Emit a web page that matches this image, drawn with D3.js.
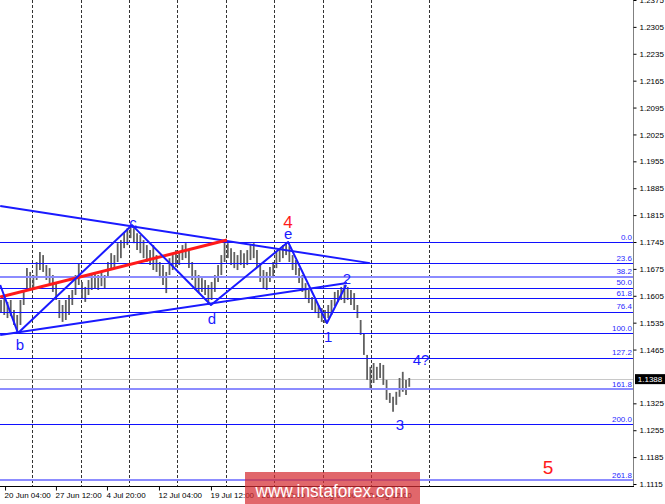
<!DOCTYPE html>
<html>
<head>
<meta charset="utf-8">
<script src="https://cdnjs.cloudflare.com/ajax/libs/d3/7.8.5/d3.min.js"></script>
<style>
  body { margin: 0; background: #fff; }
  svg { display: block; font-family: "Liberation Sans", Arial, sans-serif; }
</style>
</head>
<body>
<svg id="chart" width="665" height="504"></svg>
<script>
// H4 bars sampled every 8h: high / low
const barHigh = [
  1.1594, 1.1599, 1.1589, 1.1594, 1.1568, 1.1555, 1.1594, 1.1620, 1.1677, 1.1667,
  1.1659, 1.1693, 1.1719, 1.1711, 1.1685, 1.1677, 1.1659, 1.1641, 1.1594, 1.1581,
  1.1594, 1.1607, 1.1620, 1.1659, 1.1690, 1.1641, 1.1628, 1.1646, 1.1659, 1.1667,
  1.1659, 1.1667, 1.1659, 1.1693, 1.1716, 1.1711, 1.1742, 1.1750, 1.1771, 1.1781,
  1.1789, 1.1781, 1.1768, 1.1763, 1.1750, 1.1737, 1.1724, 1.1737, 1.1711, 1.1693,
  1.1685, 1.1667, 1.1703, 1.1711, 1.1724, 1.1719, 1.1737, 1.1742, 1.1724, 1.1693,
  1.1672, 1.1659, 1.1651, 1.1646, 1.1633, 1.1641, 1.1659, 1.1685, 1.1711, 1.1747,
  1.1742, 1.1729, 1.1719, 1.1711, 1.1724, 1.1716, 1.1724, 1.1737, 1.1742, 1.1724,
  1.1685, 1.1672, 1.1667, 1.1680, 1.1693, 1.1719, 1.1729, 1.1737, 1.1745, 1.1734,
  1.1711, 1.1698, 1.1677, 1.1659, 1.1638, 1.1620, 1.1602, 1.1594, 1.1581, 1.1573,
  1.1568, 1.1581, 1.1594, 1.1615, 1.1620, 1.1628, 1.1633, 1.1628, 1.1620, 1.1612,
  1.1581, 1.1542, 1.1508, 1.1451, 1.1420, 1.1430, 1.1420, 1.1430, 1.1425, 1.1386,
  1.1352, 1.1342, 1.1355, 1.1391, 1.1407, 1.1386, 1.1391
];
const barLow = [
  1.1560, 1.1555, 1.1547, 1.1552, 1.1529, 1.1508, 1.1529, 1.1581, 1.1620, 1.1625,
  1.1620, 1.1646, 1.1672, 1.1667, 1.1646, 1.1633, 1.1615, 1.1594, 1.1547, 1.1537,
  1.1542, 1.1555, 1.1581, 1.1607, 1.1633, 1.1599, 1.1589, 1.1607, 1.1620, 1.1625,
  1.1620, 1.1630, 1.1625, 1.1651, 1.1672, 1.1677, 1.1693, 1.1703, 1.1729, 1.1737,
  1.1755, 1.1742, 1.1724, 1.1716, 1.1703, 1.1693, 1.1685, 1.1672, 1.1667, 1.1651,
  1.1633, 1.1612, 1.1659, 1.1672, 1.1680, 1.1685, 1.1698, 1.1703, 1.1677, 1.1646,
  1.1620, 1.1612, 1.1615, 1.1607, 1.1581, 1.1594, 1.1615, 1.1641, 1.1659, 1.1693,
  1.1703, 1.1685, 1.1677, 1.1672, 1.1685, 1.1677, 1.1685, 1.1698, 1.1703, 1.1677,
  1.1641, 1.1625, 1.1620, 1.1641, 1.1651, 1.1677, 1.1693, 1.1703, 1.1711, 1.1693,
  1.1672, 1.1659, 1.1638, 1.1615, 1.1599, 1.1586, 1.1568, 1.1560, 1.1547, 1.1537,
  1.1534, 1.1547, 1.1555, 1.1578, 1.1589, 1.1594, 1.1586, 1.1594, 1.1581, 1.1568,
  1.1547, 1.1503, 1.1451, 1.1386, 1.1360, 1.1378, 1.1386, 1.1391, 1.1373, 1.1334,
  1.1326, 1.1303, 1.1321, 1.1342, 1.1355, 1.1347, 1.1368
];
const lastPrice = 1.1388;

// axes (x in H4-bar units)
const priceTicks = [1.2375, 1.2305, 1.2235, 1.2165, 1.2095, 1.2025, 1.1955, 1.1885, 1.1815,
  1.1745, 1.1675, 1.1605, 1.1535, 1.1465, 1.1325, 1.1255, 1.1185, 1.1115];
const timeLabels = ["20 Jun 04:00", "27 Jun 12:00", "4 Jul 20:00", "12 Jul 04:00",
  "19 Jul 12:00", "26 Jul 20:00", "3 Aug 04:00", "10 Aug 12:00"];
const timeTicks = [3, 34.4, 65.9, 98, 130.1, 161.6, 193.7, 225.2];
const weekLines = [19.6, 49.9, 79.5, 109.1, 139.4, 169, 199.3, 228.9, 264.7];

// fibonacci grid
const fibLevels = [0, 23.6, 38.2, 50, 61.8, 76.4, 100, 127.2, 161.8, 200, 261.8];
const fibLight = [38.2, 161.8, 261.8];
const fibTop = 1.1745, fibBottom = 1.1508;

// wave count and trend lines: [bar, price]
const wavePath = [[0, 1.1633], [11, 1.1508], [81.4, 1.1789], [130.1, 1.1581],
  [177.7, 1.1745], [201.7, 1.1534], [213.5, 1.1633]];
const upperLine = [[0, 1.1839], [228.3, 1.1690]];
const lowerLine = [[0, 1.1503], [214.1, 1.1638]];
const redLine = [[0, 1.1602], [140, 1.1750]];

// wave labels: text, bar, price, colour, size
const waveLabels = [
  ["b", 12.2, 1.1477, "#1a1aff", 15], ["c", 82, 1.1797, "#1a1aff", 15],
  ["d", 130.7, 1.1547, "#1a1aff", 15], ["e", 177.7, 1.1766, "#1a1aff", 15],
  ["4", 177.7, 1.1797, "#ff1a1a", 17], ["1", 202.4, 1.1498, "#1a1aff", 15],
  ["2", 214.1, 1.1649, "#1a1aff", 15], ["3", 246.8, 1.1269, "#1a1aff", 15],
  ["4?", 259.8, 1.1440, "#1a1aff", 15], ["5", 338.2, 1.1157, "#ff1a1a", 19]
];

const svg = d3.select("#chart");
const plotRight = 633, plotBottom = 486.5;

const x = d3.scaleLinear().domain([0, 260]).range([0.2, 421.4]);
const y = d3.scaleLinear().domain([1.1115, 1.2375]).range([484, 0]);
const crisp = v => Math.round(v) + 0.5;

// weekly dashed grid
svg.append("g").selectAll("line")
  .data(weekLines)
  .enter().append("line")
  .attr("x1", d => crisp(x(d)))
  .attr("x2", d => crisp(x(d)))
  .attr("y1", 0)
  .attr("y2", plotBottom)
  .attr("stroke", "#333")
  .attr("stroke-dasharray", "3,2");

// current price line
svg.append("line")
  .attr("x1", 0).attr("x2", plotRight)
  .attr("y1", crisp(y(lastPrice))).attr("y2", crisp(y(lastPrice)))
  .attr("stroke", "#c8c8c8");

// price bars
svg.append("g").selectAll("line")
  .data(barHigh)
  .enter().append("line")
  .attr("x1", (d, i) => x(0.5 + 2 * i))
  .attr("x2", (d, i) => x(0.5 + 2 * i))
  .attr("y1", d => y(d))
  .attr("y2", (d, i) => y(barLow[i]))
  .attr("stroke", "#606060")
  .attr("stroke-width", 1.8);

// fibonacci levels
const fibPrice = lvl => fibTop - (fibTop - fibBottom) * lvl / 100;
const fib = svg.append("g");
fib.selectAll("line")
  .data(fibLevels)
  .enter().append("line")
  .attr("x1", 0).attr("x2", plotRight)
  .attr("y1", d => fibLight.includes(d) ? Math.round(y(fibPrice(d))) : crisp(y(fibPrice(d))))
  .attr("y2", d => fibLight.includes(d) ? Math.round(y(fibPrice(d))) : crisp(y(fibPrice(d))))
  .attr("stroke", d => fibLight.includes(d) ? "#8c8cff" : "#1010ff")
  .attr("stroke-width", d => fibLight.includes(d) ? 2 : 1);
fib.selectAll("text")
  .data(fibLevels)
  .enter().append("text")
  .attr("x", plotRight - 1)
  .attr("y", d => y(fibPrice(d)) - 2.5)
  .attr("text-anchor", "end")
  .attr("font-size", 8)
  .attr("fill", "#2a2aff")
  .text(d => d.toFixed(1));

// triangle, red line, wave path
const line = d3.line().x(d => x(d[0])).y(d => y(d[1]));
[upperLine, lowerLine].forEach(pts => {
  svg.append("path").attr("d", line(pts))
    .attr("fill", "none").attr("stroke", "#1a1aff").attr("stroke-width", 2);
});
svg.append("path").attr("d", line(redLine))
  .attr("fill", "none").attr("stroke", "#ff1a1a").attr("stroke-width", 3);
svg.append("path").attr("d", line(wavePath))
  .attr("fill", "none").attr("stroke", "#1a1aff").attr("stroke-width", 2)
  .attr("stroke-linejoin", "round");

svg.append("g").selectAll("text")
  .data(waveLabels)
  .enter().append("text")
  .attr("x", d => x(d[1]))
  .attr("y", d => y(d[2]))
  .attr("text-anchor", "middle")
  .attr("dominant-baseline", "central")
  .attr("font-size", d => d[4])
  .attr("fill", d => d[3])
  .text(d => d[0]);

// right price axis
svg.append("line")
  .attr("x1", plotRight + 0.5).attr("x2", plotRight + 0.5)
  .attr("y1", 0).attr("y2", plotBottom)
  .attr("stroke", "#808080");
const yAxis = svg.append("g")
  .attr("transform", `translate(${plotRight + 0.5},0)`)
  .call(d3.axisRight(y).tickValues(priceTicks).tickSize(3).tickPadding(3)
    .tickFormat(d3.format(".4f")));
yAxis.select(".domain").remove();
yAxis.selectAll("text").attr("font-size", 8).attr("font-family", "'Liberation Sans', Arial, sans-serif");
yAxis.selectAll("line").attr("stroke", "#000");

// current price box
svg.append("rect")
  .attr("x", plotRight + 2).attr("y", y(lastPrice) - 5)
  .attr("width", 30).attr("height", 10)
  .attr("fill", "#000");
svg.append("text")
  .attr("x", plotRight + 17).attr("y", y(lastPrice))
  .attr("text-anchor", "middle").attr("dominant-baseline", "central")
  .attr("font-size", 8).attr("fill", "#fff")
  .text(lastPrice.toFixed(4));

// bottom time axis
svg.append("line")
  .attr("x1", 0).attr("x2", plotRight + 1)
  .attr("y1", plotBottom).attr("y2", plotBottom)
  .attr("stroke", "#000");
const xAxis = svg.append("g")
  .attr("transform", `translate(0,${plotBottom})`)
  .call(d3.axisBottom(x).tickValues(timeTicks).tickSize(4).tickPadding(2)
    .tickFormat((d, i) => timeLabels[i]));
xAxis.select(".domain").remove();
xAxis.selectAll("text")
  .attr("text-anchor", "start").attr("dx", -1)
  .attr("font-size", 8).attr("font-family", "'Liberation Sans', Arial, sans-serif");

// watermark (covers the later date labels, as in the source)
svg.append("rect")
  .attr("x", 245).attr("y", 472).attr("width", 175).attr("height", 32)
  .attr("fill", "rgba(214,44,50,0.72)");
svg.append("text")
  .attr("x", 332).attr("y", 497)
  .attr("text-anchor", "middle")
  .attr("font-size", 19)
  .attr("fill", "#fff")
  .attr("textLength", 153).attr("lengthAdjust", "spacingAndGlyphs")
  .text("www.instaforex.com");
</script>
</body>
</html>
